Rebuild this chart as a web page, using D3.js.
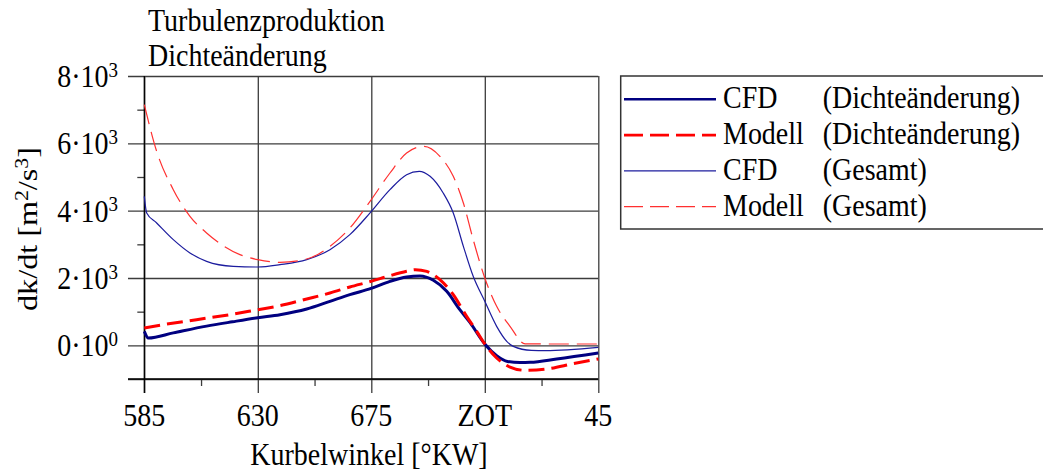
<!DOCTYPE html>
<html>
<head>
<meta charset="utf-8">
<script src="https://cdn.jsdelivr.net/npm/d3@7"></script>
<style>
  html, body { margin: 0; padding: 0; background: #fff; }
  svg { display: block; }
</style>
</head>
<body>
<svg id="chart" width="1043" height="472"></svg>
<script>
// Crank angle samples (°KW, 720 = ZOT) and dk/dt values [m²/s³] for each curve
const cfdDichteAngle = [585, 586.6, 596.5, 609.7, 620, 630, 638.8, 649.4, 658.6, 666.5, 674.9, 682.4, 689, 694.3, 699.6, 704.9, 710.1, 714.1, 720, 724.7, 729, 734, 738, 748.5, 765];
const cfdDichte      = [416, 218, 370, 570, 700, 820, 911, 1079, 1307, 1505, 1690, 1901, 2030, 2060, 1931, 1604, 1059, 680, 40, -307, -480, -510, -505, -406, -227];

const modellDichteAngle = [585, 592.5, 605.7, 619, 630, 638.8, 649.4, 658.6, 666.5, 674.9, 682.4, 689, 692.5, 697, 702.2, 707.5, 712.8, 716.8, 720, 724.7, 730, 736, 744.5, 755.1, 765];
const modellDichte      = [515, 614, 762, 911, 1059, 1178, 1376, 1554, 1733, 1901, 2069, 2198, 2248, 2198, 1950, 1505, 861, 416, 40, -376, -644, -742, -703, -545, -405];

const cfdGesamtAngle = [585, 585.95, 589.9, 596.5, 603.1, 609.7, 620.3, 630, 638.8, 649.4, 658.6, 666.5, 674.5, 682.4, 689, 694, 698.3, 703.5, 707.5, 711.5, 715.4, 720, 724.7, 728.7, 731.3, 738.5, 744, 765];
const cfdGesamt      = [4425, 3932, 3635, 3139, 2744, 2495, 2346, 2327, 2396, 2545, 2842, 3287, 3932, 4624, 5069, 5168, 5020, 4525, 3931, 2941, 2050, 1307, 564, 119, -30, -150, -157, -59];

const modellGesamtAngle = [585, 589.9, 596.5, 603.1, 609.7, 622.9, 630, 638.8, 649.4, 658.6, 666.5, 674.5, 682.4, 689, 695.9, 702.2, 707.5, 711.5, 715.4, 720, 724.7, 730, 736, 744.5, 765];
const modellGesamt      = [7150, 5762, 4624, 3831, 3338, 2694, 2545, 2465, 2564, 2941, 3485, 4277, 5119, 5713, 5910, 5614, 5020, 4228, 3139, 2000, 1158, 564, 45, 40, 40];

// Axis ticks
const xMajor = [585, 630, 675, 720, 765];
const xLabels = ["585", "630", "675", "ZOT", "45"];
const xMinor = [607.5, 652.5, 697.5, 742.5];
const yMajor = [-1000, 0, 2000, 4000, 6000, 8000];
const yLabelValues = [0, 2000, 4000, 6000, 8000];
const yMantissa = ["0", "2", "4", "6", "8"];
const yExponent = ["0", "3", "3", "3", "3"];
const yMinor = [1000, 3000, 5000, 7000];

const titleLines = ["Turbulenzproduktion", "Dichteänderung"];
const legendNames = ["CFD", "Modell", "CFD", "Modell"];
const legendCases = ["(Dichteänderung)", "(Dichteänderung)", "(Gesamt)", "(Gesamt)"];

const series = [
  { angle: cfdGesamtAngle, value: cfdGesamt, color: "#1c1c9e", width: 1.2, dash: null },
  { angle: modellGesamtAngle, value: modellGesamt, color: "#ff3030", width: 1.2, dash: "20,8" },
  { angle: cfdDichteAngle, value: cfdDichte, color: "#000080", width: 3, dash: null },
  { angle: modellDichteAngle, value: modellDichte, color: "#ff0000", width: 3, dash: "16,7" }
];
const legendOrder = [2, 3, 0, 1];

const FONT = "'Liberation Serif', 'Times New Roman', Times, 'DejaVu Serif', serif";
const SY = 1.15; // vertical text stretch
const svg = d3.select("#chart");
const plotLeft = 144.3, plotRight = 598.3, plotTop = 76, plotBottom = 379;
const x = d3.scaleLinear().domain([585, 765]).range([plotLeft, plotRight]);
const y = d3.scaleLinear().domain([-1000, 8000]).range([plotBottom, plotTop]);

const gridColor = "#3c3c3c";

// Horizontal grid lines, extending left of the axis as major ticks
const yGrid = svg.append("g").attr("transform", `translate(128,0)`)
  .call(d3.axisRight(y).tickValues(yMajor).tickSize(plotRight - 128).tickFormat(""));
yGrid.select(".domain").remove();
yGrid.selectAll("line").attr("stroke", gridColor).attr("stroke-width", 1.3);

// Minor y ticks
const yMin = svg.append("g").attr("transform", `translate(${plotLeft},0)`)
  .call(d3.axisLeft(y).tickValues(yMinor).tickSize(7).tickFormat(""));
yMin.select(".domain").remove();
yMin.selectAll("line").attr("stroke", gridColor).attr("stroke-width", 1.3);

// Vertical grid lines, extending below the axis as major ticks
const xGrid = svg.append("g").attr("transform", `translate(0,${plotTop})`)
  .call(d3.axisBottom(x).tickValues(xMajor).tickSize(393 - plotTop).tickFormat(""));
xGrid.select(".domain").remove();
xGrid.selectAll("line").attr("stroke", gridColor).attr("stroke-width", 1.3);

// Minor x ticks
const xMin = svg.append("g").attr("transform", `translate(0,${plotBottom})`)
  .call(d3.axisBottom(x).tickValues(xMinor).tickSize(7).tickFormat(""));
xMin.select(".domain").remove();
xMin.selectAll("line").attr("stroke", gridColor).attr("stroke-width", 1.3);

// Axis lines
svg.append("line").attr("x1", plotLeft).attr("x2", plotLeft).attr("y1", plotTop).attr("y2", 393)
  .attr("stroke", "#000").attr("stroke-width", 1.3);
svg.append("line").attr("x1", 128).attr("x2", plotRight).attr("y1", plotBottom).attr("y2", plotBottom)
  .attr("stroke", "#000").attr("stroke-width", 1.3);

// Curves
const line = d3.line().curve(d3.curveMonotoneX);
const plot = svg.append("g");
series.forEach(s => {
  const pts = s.angle.map((a, i) => [x(a), y(s.value[i])]);
  plot.append("path")
    .attr("d", line(pts))
    .attr("fill", "none")
    .attr("stroke", s.color)
    .attr("stroke-width", s.width)
    .attr("stroke-dasharray", s.dash)
    .attr("stroke-linejoin", "round");
});

const FS = 28;
function stretchedText(g, tx, ty, extra) {
  return g.append("text")
    .attr("transform", `translate(${tx},${ty}) scale(1,${SY})${extra || ""}`)
    .attr("font-family", FONT)
    .attr("font-size", FS)
    .attr("fill", "#000");
}

// Y tick labels with powers of ten
yLabelValues.forEach((v, i) => {
  const t = stretchedText(svg, 118, y(v) + 11).attr("text-anchor", "end");
  t.append("tspan").text(yMantissa[i] + "·10");
  t.append("tspan").attr("font-size", 19).attr("dy", -9).text(yExponent[i]);
});

// X tick labels
xMajor.forEach((v, i) => {
  stretchedText(svg, x(v), 426).attr("text-anchor", "middle").text(xLabels[i]);
});

// Axis titles
stretchedText(svg, 369, 465).attr("text-anchor", "middle").text("Kurbelwinkel [°KW]");
const yt = stretchedText(svg, 37, 229, " rotate(-90)").attr("text-anchor", "middle");
yt.append("tspan").text("dk/dt [m");
yt.append("tspan").attr("font-size", 19).attr("dy", -9).text("2");
yt.append("tspan").attr("dy", 9).text("/s");
yt.append("tspan").attr("font-size", 19).attr("dy", -9).text("3");
yt.append("tspan").attr("dy", 9).text("]");

// Title
titleLines.forEach((s, i) => {
  stretchedText(svg, 148, 31 + i * 35).text(s);
});

// Legend
const lg = svg.append("g");
lg.append("rect").attr("x", 620.7).attr("y", 76).attr("width", 440).attr("height", 153)
  .attr("fill", "#fff").attr("stroke", "#333").attr("stroke-width", 1.5);
legendOrder.forEach((si, r) => {
  const s = series[si];
  const cy = 99.3 + r * 35.8;
  lg.append("line").attr("x1", 624).attr("x2", 716).attr("y1", cy).attr("y2", cy)
    .attr("stroke", s.color).attr("stroke-width", s.width === 3 ? 2.6 : 1.3)
    .attr("stroke-dasharray", s.dash ? "19,7" : null);
  stretchedText(lg, 723, cy + 9).text(legendNames[r]);
  stretchedText(lg, 822.7, cy + 9).text(legendCases[r]);
});
</script>
</body>
</html>
